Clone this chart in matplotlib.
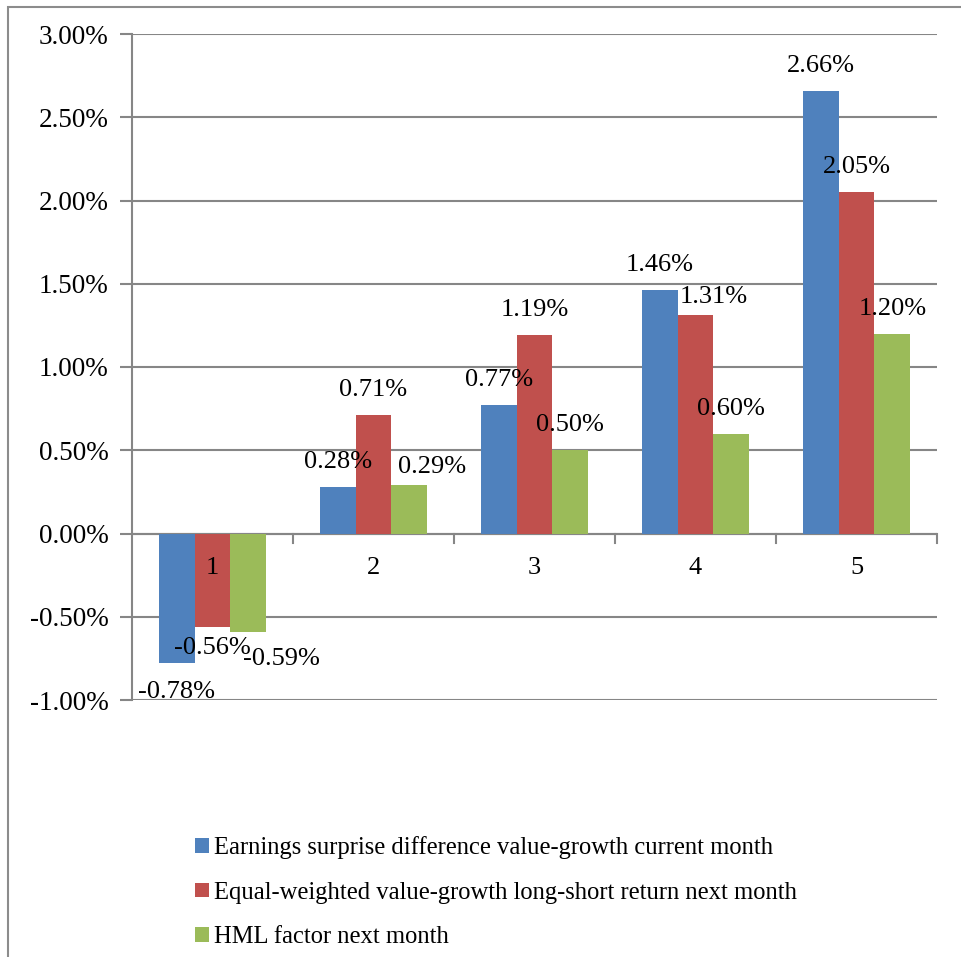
import matplotlib
matplotlib.use("Agg")
import matplotlib.pyplot as plt
from matplotlib.patches import Rectangle
from matplotlib.ticker import FuncFormatter
import numpy as np

plt.rcParams['font.family'] = ['Liberation Serif', 'DejaVu Serif']

categories = ["1", "2", "3", "4", "5"]
series_names = [
    "Earnings surprise difference value-growth current month",
    "Equal-weighted value-growth long-short return next month",
    "HML factor next month",
]
earnings = [-0.78, 0.28, 0.77, 1.46, 2.66]
equal_weighted = [-0.56, 0.71, 1.19, 1.31, 2.05]
hml = [-0.59, 0.29, 0.50, 0.60, 1.20]
colors = ["#4F81BD", "#C0504D", "#9BBB59"]

# label nudges (pixels) where excel moved labels to avoid overlap
nudge = {(0, 0): (0, -29), (1, 0): (0, -21), (2, 0): (33, -27),
         (2, 1): (23, 18), (1, 3): (18, 18)}

fig = plt.figure(figsize=(9.61, 9.57), dpi=100)
fig.patches.append(Rectangle((8 / 961, -0.1), 1.2, 1 - 7 / 957 + 0.1,
                             transform=fig.transFigure, fill=False,
                             edgecolor="#8c8c8c", linewidth=1.5))
ax = fig.add_axes([132 / 961, 1 - 700 / 957, (937 - 132) / 961, (700 - 34) / 957])

x = np.arange(len(categories))
w = 1 / 4.5
data = [earnings, equal_weighted, hml]
for s, vals in enumerate(data):
    pos = x + (s - 1) * w
    ax.bar(pos, np.array(vals) / 100, width=w, color=colors[s],
           label=series_names[s], zorder=3)
    for i, v in enumerate(vals):
        dx, dy = nudge.get((s, i), (0, 25 if v > 0 else -25))
        ax.annotate("%.2f%%" % v, (pos[i], v / 100), xytext=(dx, dy),
                    textcoords="offset pixels", ha="center", va="center",
                    fontsize=19, zorder=4)

ax.set_xlim(-0.5, 4.5)
ax.set_ylim(-0.01, 0.03)
ax.set_yticks(np.arange(-0.01, 0.0301, 0.005))
ax.yaxis.set_major_formatter(FuncFormatter(lambda v, p: "%.2f%%" % (v * 100)))
ax.tick_params(axis="y", direction="out", length=9, width=1.5, color="#868686",
               pad=8, labelsize=19.5)
ax.grid(axis="y", color="#868686", linewidth=1.5, zorder=0)
for sp in ["top", "right", "bottom"]:
    ax.spines[sp].set_visible(False)
ax.spines["left"].set_color("#868686")
ax.spines["left"].set_linewidth(1.5)
ax.axhline(0, color="#868686", linewidth=1.5, zorder=2)

# category separators and labels on the zero line
ax.set_xticks([])
for b in np.arange(0.5, 4.6, 1.0):
    ax.plot([b, b], [0, -0.00055], color="#868686", linewidth=1.5, zorder=2,
            clip_on=False)
for i, c in enumerate(categories):
    ax.annotate(c, (i, 0), xytext=(0, -34), textcoords="offset pixels",
                ha="center", va="center", fontsize=19, zorder=4)

handles, labels = ax.get_legend_handles_labels()
fig.legend(handles, labels, loc="upper left", bbox_to_anchor=(173 / 961, 1 - 814 / 957),
           frameon=False, fontsize=17.7, handlelength=0.55, handleheight=0.55,
           handletextpad=0.2, labelspacing=0.92)

fig.savefig("out.png", dpi=100)
